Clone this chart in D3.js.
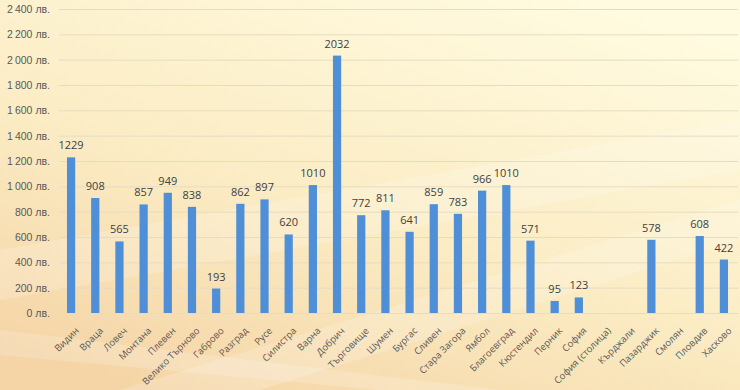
<!DOCTYPE html>
<html>
<head>
<meta charset="utf-8">
<script src="https://cdn.jsdelivr.net/npm/d3@7"></script>
<style>
  body { margin: 0; }
  svg { display: block; font-family: 'Open Sans', 'Liberation Sans', sans-serif; }
</style>
</head>
<body>
<svg width="740" height="390"></svg>
<script>
const regions = ['Видин', 'Враца', 'Ловеч', 'Монтана', 'Плевен', 'Велико Търново', 'Габрово',
  'Разград', 'Русе', 'Силистра', 'Варна', 'Добрич', 'Търговище', 'Шумен', 'Бургас', 'Сливен',
  'Стара Загора', 'Ямбол', 'Благоевград', 'Кюстендил', 'Перник', 'София', 'София (столица)',
  'Кърджали', 'Пазарджик', 'Смолян', 'Пловдив', 'Хасково']
const amounts = [1229, 908, 565, 857, 949, 838, 193, 862, 897, 620, 1010, 2032, 772, 811, 641,
  859, 783, 966, 1010, 571, 95, 123, null, null, 578, null, 608, 422]
const yTicks = [0, 200, 400, 600, 800, 1000, 1200, 1400, 1600, 1800, 2000, 2200, 2400]

let svg = d3.select('svg')
const width = +svg.attr('width')
const height = +svg.attr('height')

// background
const defs = svg.append('defs')
const grad = defs.append('linearGradient').attr('id', 'bg')
  .attr('x1', '80%').attr('y1', '0%').attr('x2', '20%').attr('y2', '100%')
grad.append('stop').attr('offset', '0%').attr('stop-color', '#fffbe0')
grad.append('stop').attr('offset', '55%').attr('stop-color', '#fbecc4')
grad.append('stop').attr('offset', '100%').attr('stop-color', '#f5d5a6')
svg.append('rect').attr('width', width).attr('height', height).attr('fill', 'url(#bg)')

// soft diagonal streaks
const streaks = [
  [[0, 250], [740, 120], [740, 170], [0, 300]],
  [[120, 390], [740, 200], [740, 240], [260, 390]],
  [[0, 330], [500, 390], [380, 390], [0, 355]]
]
svg.append('g').selectAll('path').data(streaks).enter().append('path')
  .attr('d', d => 'M' + d.join('L') + 'Z')
  .attr('fill', '#ffffff').attr('opacity', 0.18)

const margin = { top: 9, left: 59, right: 4, bottom: 77 }
const x = d3.scaleBand().domain(regions).range([margin.left, width - margin.right]).paddingInner(0.66).paddingOuter(0.33)
const y = d3.scaleLinear().domain([0, 2400]).range([height - margin.bottom, margin.top])

// gridlines + y labels
const yAxis = d3.axisLeft(y).tickValues(yTicks).tickSize(-(width - margin.left - 2))
  .tickFormat(d => d3.format(',')(d).replace(/,/g, '\u2009') + ' лв.')
const yg = svg.append('g').attr('transform', `translate(${margin.left},0)`).call(yAxis)
yg.select('.domain').remove()
yg.selectAll('.tick line').attr('stroke', '#e6dcc4').attr('stroke-width', 1)
yg.selectAll('.tick text').attr('x', -9).attr('fill', '#595959')
  .style('font-size', '10.5px')

// bars
const data = regions.map((r, i) => ({ r, v: amounts[i] })).filter(d => d.v !== null)
svg.append('g').selectAll('rect').data(data).enter().append('rect')
  .attr('x', d => x(d.r))
  .attr('width', x.bandwidth())
  .attr('y', d => y(d.v))
  .attr('height', d => y(0) - y(d.v))
  .attr('fill', '#4e8fd8')

svg.append('g').selectAll('text').data(data).enter().append('text')
  .attr('x', d => x(d.r) + x.bandwidth() / 2)
  .attr('y', d => y(d.v) - 8)
  .attr('text-anchor', 'middle')
  .attr('fill', '#404040')
  .style('font-size', '11px')
  .text(d => d.v)

// x labels
svg.append('g').selectAll('text').data(regions).enter().append('text')
  .attr('transform', d => `translate(${x(d) + x.bandwidth() / 2 + 6},${y(0) + 16}) rotate(-45)`)
  .attr('text-anchor', 'end')
  .attr('dy', '0.35em')
  .attr('fill', '#595959')
  .style('font-size', '9.5px')
  .text(d => d)
</script>
</body>
</html>
